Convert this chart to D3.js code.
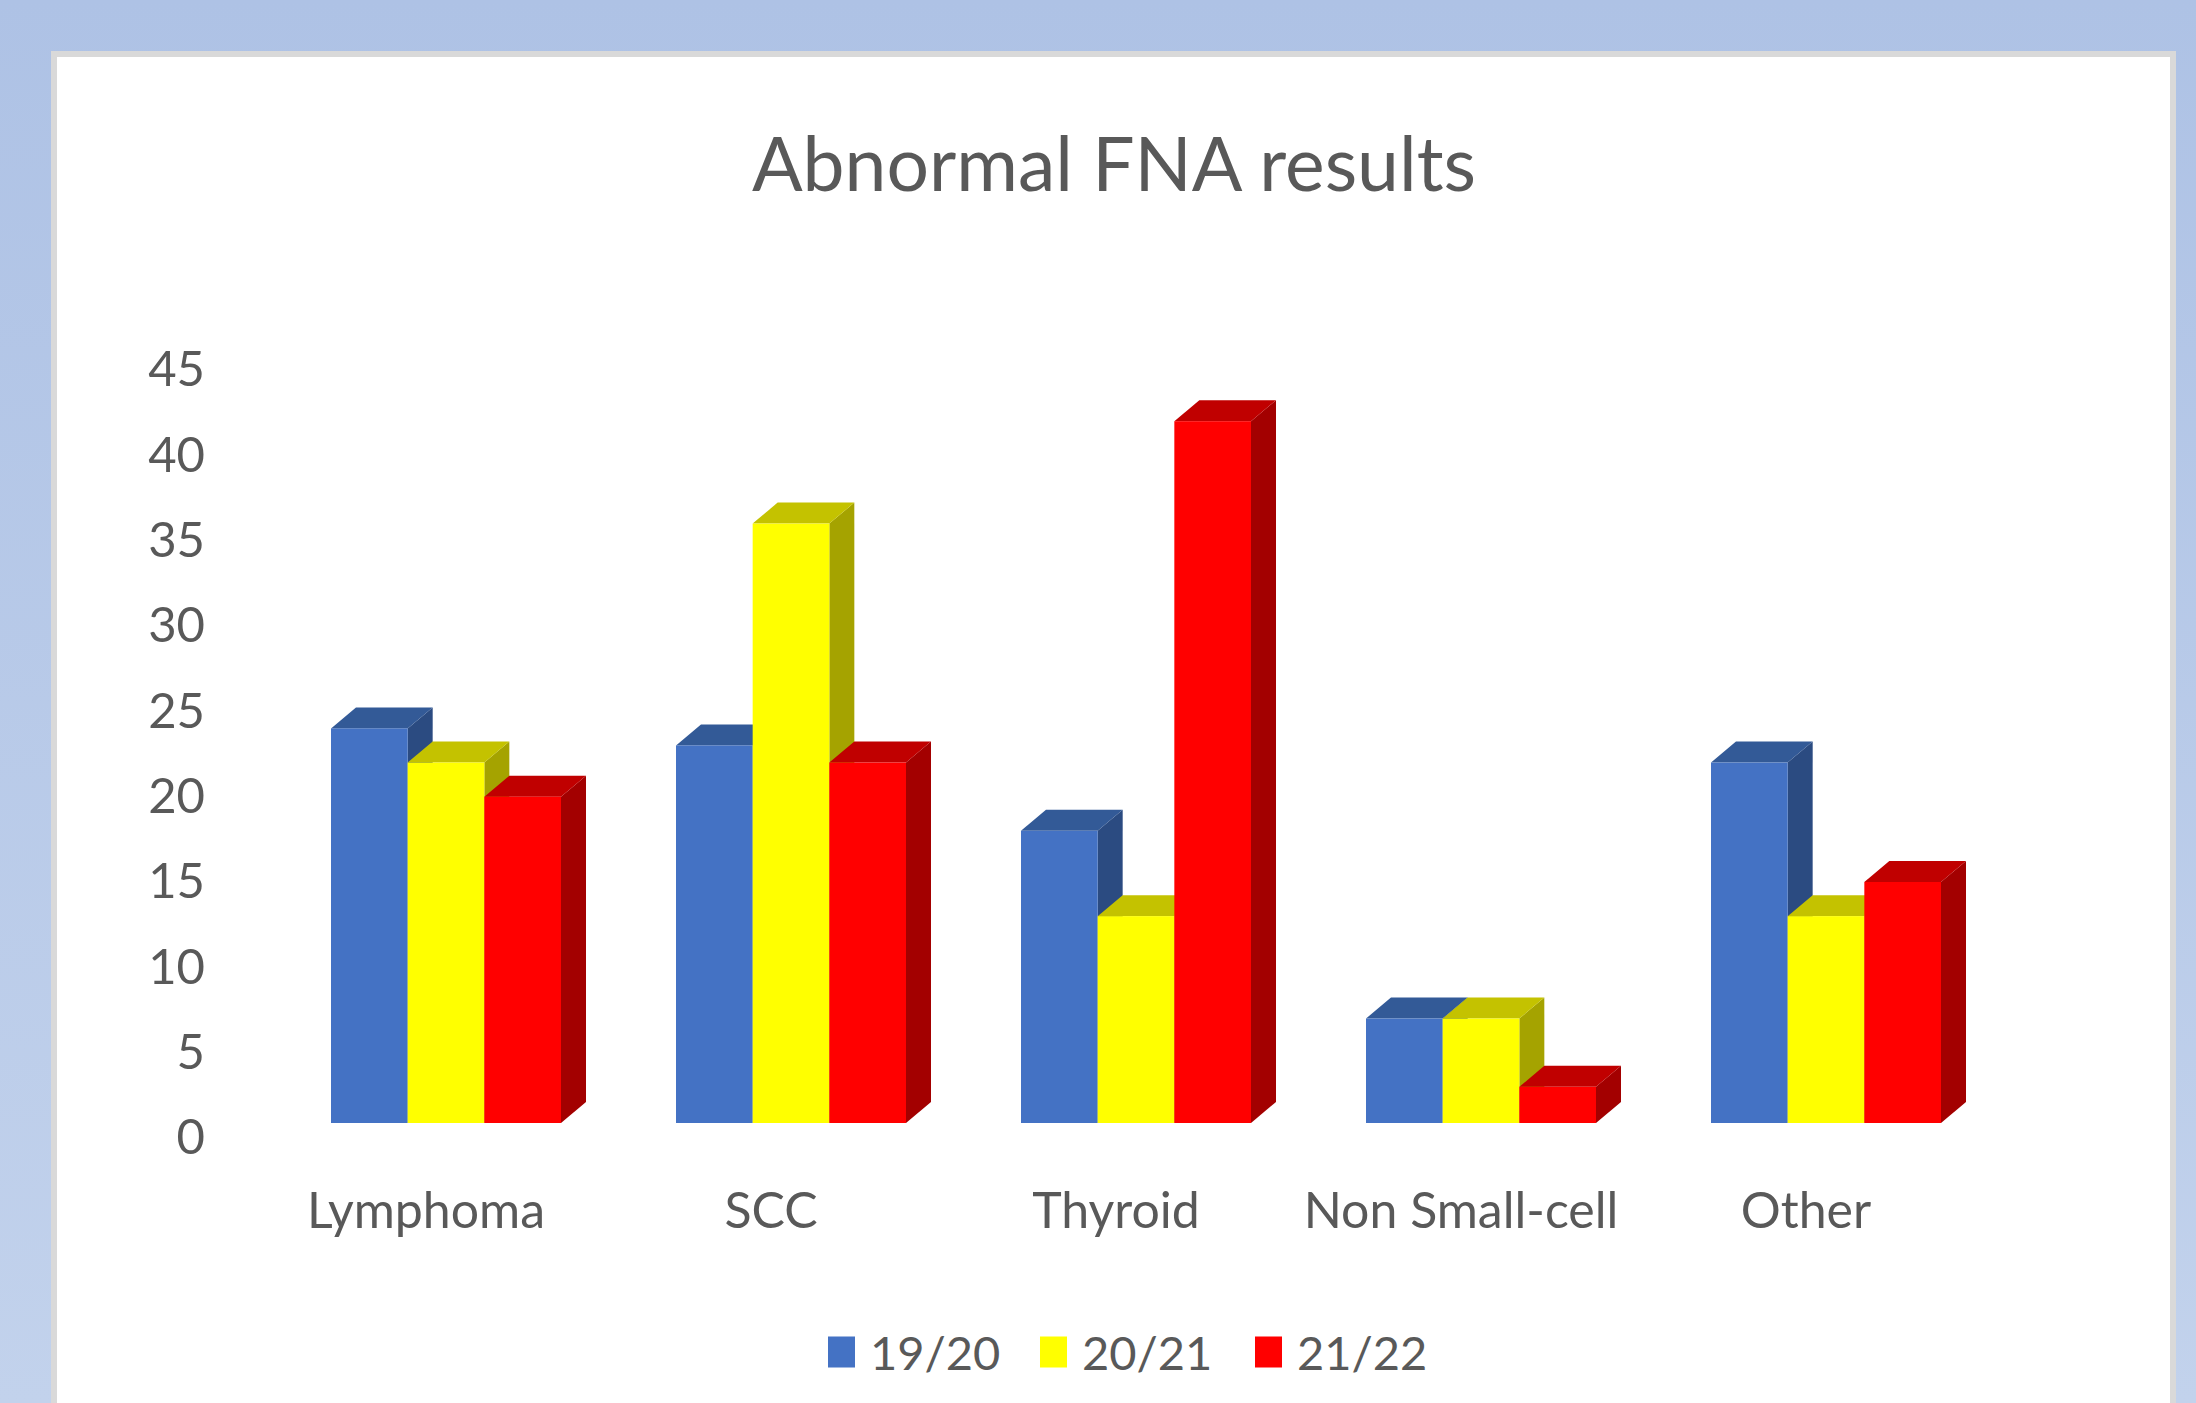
<!DOCTYPE html>
<html>
<head>
<meta charset="utf-8">
<script src="https://cdn.jsdelivr.net/npm/d3@7"></script>
<style>
  body { margin: 0; overflow: hidden; }
  svg text { font-family: Lato, "Liberation Sans", sans-serif; fill: #595959; }
</style>
</head>
<body>
<div id="chart"></div>
<script>
// data
const categories = ["Lymphoma", "SCC", "Thyroid", "Non Small-cell", "Other"];
const seriesNames = ["19/20", "20/21", "21/22"];
const v1920 = [24, 23, 18, 7, 22];
const v2021 = [22, 36, 13, 7, 13];
const v2122 = [20, 22, 42, 3, 15];
const yTicks = [0, 5, 10, 15, 20, 25, 30, 35, 40, 45];

const seriesValues = [v1920, v2021, v2122];

// face colours: front / top / side
const palette = [
  { front: "#4472C4", top: "#335A97", side: "#2B4B81" },
  { front: "#FFFF00", top: "#C4C200", side: "#A5A300" },
  { front: "#FF0000", top: "#C00000", side: "#A30000" }
];

const W = 2196, H = 1403;
const depthX = 25, depthY = 21;   // 3D offset of the back faces
const floorLift = 15;             // front edge of the floor sits above the "0" label

const svg = d3.select("#chart").append("svg")
  .attr("width", W).attr("height", H);

// backdrop
const defs = svg.append("defs");
const grad = defs.append("linearGradient")
  .attr("id", "bg").attr("x1", 0).attr("y1", 0).attr("x2", 0).attr("y2", 1);
grad.append("stop").attr("offset", "0%").attr("stop-color", "#AEC2E5");
grad.append("stop").attr("offset", "100%").attr("stop-color", "#C2D2EC");

svg.append("rect").attr("width", W).attr("height", H).attr("fill", "url(#bg)");
svg.append("rect")
  .attr("x", 51).attr("y", 51).attr("width", 2125).attr("height", H)
  .attr("fill", "#D9D9D9");
svg.append("rect")
  .attr("x", 57).attr("y", 57).attr("width", 2113).attr("height", H)
  .attr("fill", "#FFFFFF");

// title
svg.append("text")
  .attr("x", 1114).attr("y", 162)
  .attr("text-anchor", "middle")
  .attr("dominant-baseline", "central")
  .attr("font-size", "75px")
  .text("Abnormal FNA results");

// scales
const x = d3.scaleBand()
  .domain(categories)
  .range([273.5, 1998.5])
  .paddingInner(1 / 3)
  .paddingOuter(1 / 6);

const xs = d3.scaleBand()
  .domain(seriesNames)
  .range([0, x.bandwidth()]);

const y = d3.scaleLinear()
  .domain([0, 45])
  .range([1138, 370]);

const base = y(0) - floorLift;

// y axis labels (no line, no ticks)
const yAxis = svg.append("g")
  .attr("transform", "translate(205,0)")
  .call(d3.axisLeft(y).tickValues(yTicks).tickSize(0).tickPadding(0));
yAxis.select(".domain").remove();
yAxis.selectAll("text")
  .attr("font-size", "49px")
  .attr("font-family", "Lato, 'Liberation Sans', sans-serif")
  .attr("fill", "#595959");

// x axis labels
const xAxis = svg.append("g")
  .attr("transform", "translate(-20,1192)")
  .call(d3.axisBottom(x).tickSize(0).tickPadding(0));
xAxis.select(".domain").remove();
xAxis.selectAll("text")
  .attr("font-size", "50px")
  .attr("font-family", "Lato, 'Liberation Sans', sans-serif")
  .attr("fill", "#595959");

// 3D bars
const bars = [];
categories.forEach((c, i) => {
  seriesValues.forEach((vals, s) => {
    bars.push({ cat: c, series: s, name: seriesNames[s], value: vals[i] });
  });
});

const g = svg.append("g").attr("class", "bars");
bars.forEach(d => {
  const x0 = x(d.cat) + xs(d.name);
  const x1 = x0 + xs.bandwidth();
  const yt = y(d.value);
  const col = palette[d.series];

  // side face
  g.append("path")
    .attr("d", `M${x1},${yt}L${x1 + depthX},${yt - depthY}L${x1 + depthX},${base - depthY}L${x1},${base}Z`)
    .attr("fill", col.side);
  // top face
  g.append("path")
    .attr("d", `M${x0},${yt}L${x0 + depthX},${yt - depthY}L${x1 + depthX},${yt - depthY}L${x1},${yt}Z`)
    .attr("fill", col.top);
  // front face
  g.append("rect")
    .attr("x", x0).attr("y", yt)
    .attr("width", x1 - x0).attr("height", base - yt)
    .attr("fill", col.front);
});

// legend
const legendX = [828, 1040, 1255];
const legend = svg.append("g").attr("class", "legend");
seriesNames.forEach((n, s) => {
  const item = legend.append("g").attr("transform", `translate(${legendX[s]},1352)`);
  item.append("rect")
    .attr("x", 0).attr("y", -15.5)
    .attr("width", 27).attr("height", 31)
    .attr("fill", palette[s].front);
  item.append("text")
    .attr("x", 42).attr("y", 0)
    .attr("dominant-baseline", "central")
    .attr("font-size", "47px")
    .text(n);
});
</script>
</body>
</html>
